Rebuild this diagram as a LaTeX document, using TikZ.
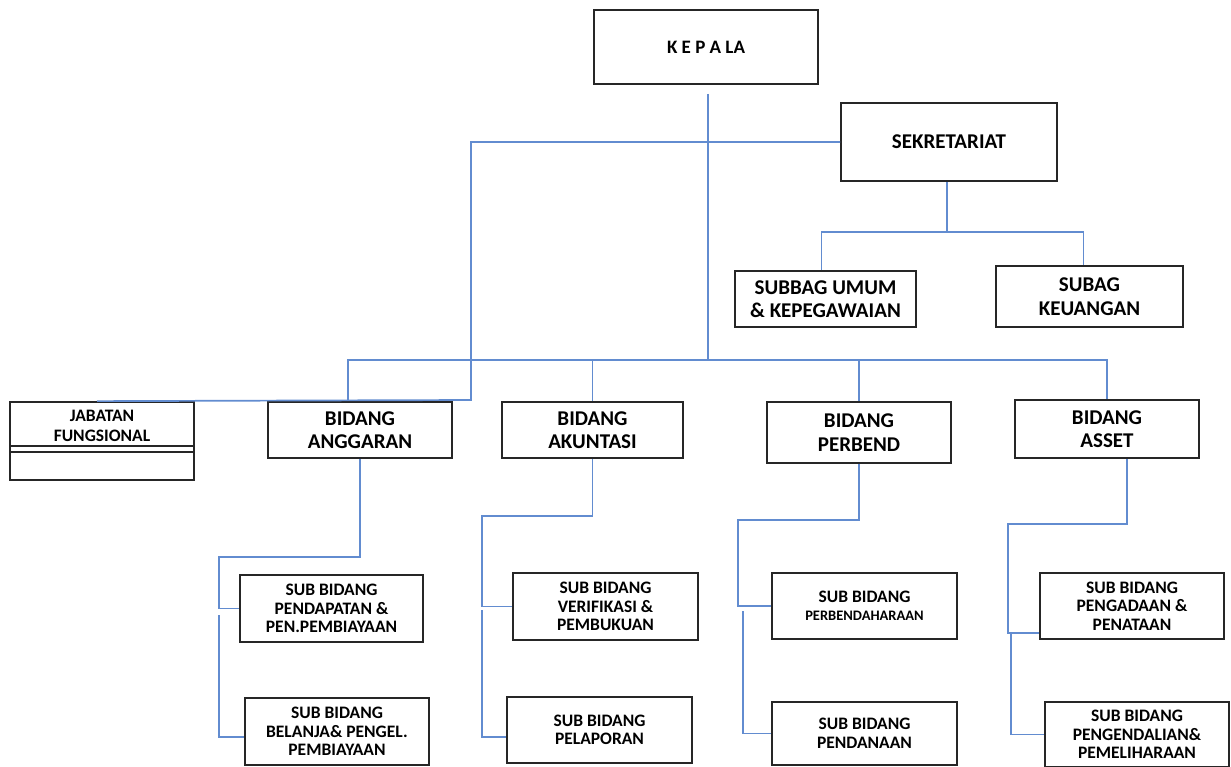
\documentclass[tikz,border=0pt]{standalone}
\usepackage{fontspec}
\setmainfont{Carlito}
\newcommand\fBig{\fontsize{21}{23.5}\selectfont}
\newcommand\fKep{\fontsize{19}{21}\selectfont}
\newcommand\fJab{\fontsize{17.5}{19.5}\selectfont}
\newcommand\fSub{\fontsize{17.5}{18.5}\selectfont}
\newcommand\fSmall{\fontsize{14.5}{18.5}\selectfont}
\definecolor{conncol}{RGB}{98,140,208}
\definecolor{boxcol}{RGB}{38,38,38}
\begin{document}
\begin{tikzpicture}[x=1pt,y=-1pt,
  box/.style={draw=boxcol,line width=1.7pt,rectangle,inner sep=0pt,align=center,font=\bfseries\fBig},
  subbox/.style={box,font=\bfseries\fSub},
  conn/.style={draw=conncol,line width=1.7pt}]
\useasboundingbox (0,0) rectangle (1231,767);
\fill[white] (0,0) rectangle (1231,767);
% top
\node[box,font=\bfseries\fKep,minimum width=224,minimum height=74] (kepala) at (706,47) {K E P A LA};
\node[box,minimum width=216,minimum height=78] (sekr) at (949,142) {SEKRETARIAT};
\node[box,minimum width=181,minimum height=56] (umum) at (825.5,299) {SUBBAG UMUM\\\& KEPEGAWAIAN};
\node[box,minimum width=187,minimum height=61] (keu) at (1089.5,296.5) {SUBAG\\KEUANGAN};
% bidang
\node[box,minimum width=184,minimum height=78] (jab) at (102,441) {};
\node[font=\bfseries\fJab,align=center,inner sep=0pt] (jabt) at (102,426) {JABATAN\\FUNGSIONAL};
\node[box,minimum width=184,minimum height=56] (angg) at (360,430) {BIDANG\\ANGGARAN};
\node[box,minimum width=181,minimum height=56] (akun) at (592.5,430) {BIDANG\\AKUNTASI};
\node[box,minimum width=184,minimum height=61] (perb) at (859,432.5) {BIDANG\\PERBEND};
\node[box,minimum width=184,minimum height=58] (asset) at (1107,429) {BIDANG\\ASSET};
% sub bidang
\node[subbox,minimum width=183,minimum height=67] (pend) at (331.5,608.5) {SUB BIDANG\\PENDAPATAN \&\\PEN.PEMBIAYAAN};
\node[subbox,minimum width=184,minimum height=67] (bel) at (337,731.5) {SUB BIDANG\\BELANJA\& PENGEL.\\PEMBIAYAAN};
\node[subbox,minimum width=185,minimum height=67] (verif) at (605.5,606.5) {SUB BIDANG\\VERIFIKASI \&\\PEMBUKUAN};
\node[subbox,minimum width=185,minimum height=66] (pelap) at (599.5,730) {SUB BIDANG\\PELAPORAN};
\node[subbox,minimum width=185,minimum height=66] (perbh) at (864.5,606) {SUB BIDANG\\{\fSmall PERBENDAHARAAN}};
\node[subbox,minimum width=185,minimum height=63] (pendn) at (864.5,733.5) {SUB BIDANG\\PENDANAAN};
\node[subbox,minimum width=184,minimum height=66] (penga) at (1132,606) {SUB BIDANG\\PENGADAAN \&\\PENATAAN};
\node[subbox,minimum width=184,minimum height=65] (pengd) at (1137,734.5) {SUB BIDANG\\PENGENDALIAN\&\\PEMELIHARAAN};
% jabatan inner lines
\draw[draw=boxcol,line width=1.4pt] ([yshift=-45pt]jab.north west) -- ([yshift=-45pt]jab.north east);
\draw[draw=boxcol,line width=1.4pt] ([yshift=-51pt]jab.north west) -- ([yshift=-51pt]jab.north east);
% coordinates
\coordinate (bus) at (0,360);
\coordinate (kx) at (708,0);
\coordinate (a1) at ([xshift=-12pt]angg.north);
\coordinate (sj) at (471,400);
\coordinate (sjend) at ([xshift=-5pt]jab.north);
\coordinate (sb) at (947,232);
\coordinate (u1) at ([xshift=-4pt]umum.north);
\coordinate (k1) at ([xshift=-6pt]keu.north);
% kepala to bus
\draw[conn] ([yshift=-9pt]kepala.south -| kx) -- (kx |- bus);
\draw[conn] (a1) -- (a1 |- bus) -- (asset.north |- bus) -- (asset.north);
\draw[conn] (akun.north) -- (akun.north |- bus);
\draw[conn] (perb.north) -- (perb.north |- bus);
% sekretariat
\draw[conn] (sekr.west) -| (sj) -- (sjend);
\draw[conn] (sekr.south -| sb) -- (sb);
\draw[conn] (u1) |- (k1 |- sb) -- (k1);
% anggaran
\coordinate (ax) at (219,557);
\coordinate (ay) at (219,615);
\coordinate (bw) at ([yshift=-5.5pt]bel.west);
\draw[conn] (angg.south) |- (ax) |- (pend.west);
\draw[conn] (ay) |- (bw);
% akuntasi
\coordinate (kkx) at (482,516);
\coordinate (kky) at (482,610);
\coordinate (pw) at ([yshift=-7pt]pelap.west);
\draw[conn] (akun.south) |- (kkx) |- (verif.west);
\draw[conn] (kky) |- (pw);
% perbend
\coordinate (px) at (738,520);
\coordinate (py) at (743,611);
\draw[conn] (perb.south) |- (px) |- (perbh.west);
\draw[conn] (py) |- (pendn.west);
% asset
\coordinate (as0) at ([xshift=20pt]asset.south);
\coordinate (sx) at (1008,524);
\coordinate (pg) at ([yshift=-27pt]penga.west);
\coordinate (sy) at (1011,633);
\draw[conn] (as0) |- (sx) |- (pg);
\draw[conn] (sy) |- (pengd.west);
\end{tikzpicture}
\end{document}
